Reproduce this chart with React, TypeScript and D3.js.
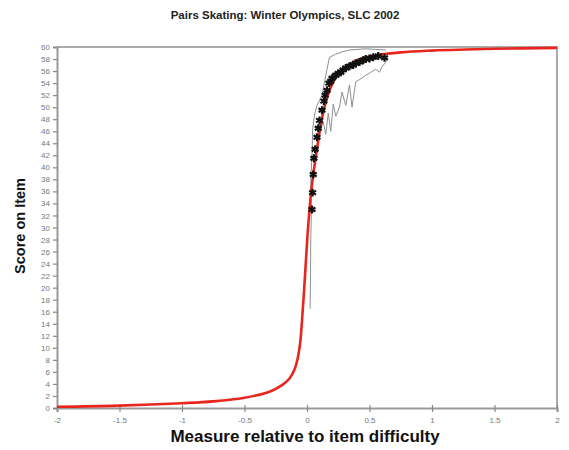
import { useEffect, useRef } from 'react'
import * as d3 from 'd3'

// model expected-score curve
const CURVE_X = [-2, -1.5, -1, -0.75, -0.5, -0.3, -0.2, -0.14, -0.1, -0.075, -0.055, -0.04, -0.025, -0.01, 0.005, 0.02, 0.035, 0.05, 0.08, 0.1, 0.14, 0.2, 0.28, 0.38, 0.5, 0.75, 1, 1.5, 2]
const CURVE_Y = [0.2, 0.4, 0.8, 1.1, 1.7, 2.7, 3.8, 4.9, 6.4, 8.2, 10.8, 14.5, 19, 24, 29, 33, 36.3, 38.8, 43, 45.8, 50, 53.8, 56.2, 57.6, 58.4, 59.1, 59.4, 59.7, 59.85]

// observed means (black markers)
const OBS_X = [0.04, 0.045, 0.05, 0.055, 0.065, 0.08, 0.09, 0.1, 0.12, 0.135, 0.145, 0.16, 0.175, 0.19, 0.2, 0.23, 0.25, 0.27, 0.29, 0.31, 0.34, 0.37, 0.39, 0.42, 0.45, 0.47, 0.5, 0.53, 0.57, 0.62]
const OBS_Y = [33, 35.8, 38.8, 41.5, 43, 45, 46.5, 47.8, 49.5, 51, 52, 52.8, 54, 54.3, 54.8, 55.3, 55.6, 55.8, 56.2, 56.5, 56.8, 57, 57.3, 57.5, 57.8, 58, 58.1, 58.3, 58.5, 58.2]

// individual observation traces (thin gray)
const TRACE1_X = [0.025, 0.028, 0.03, 0.035, 0.03, 0.04, 0.045, 0.06, 0.08, 0.12, 0.14, 0.16, 0.18, 0.23, 0.28, 0.34, 0.47, 0.63]
const TRACE1_Y = [16.5, 22, 28, 33, 38, 42, 46.3, 48.7, 50.3, 52, 54.2, 56.3, 58.3, 58.8, 59.2, 59.5, 59.7, 59.5]
const TRACE2_X = [0.1, 0.13, 0.15, 0.17, 0.19, 0.21, 0.23, 0.26, 0.28, 0.31, 0.34, 0.36, 0.39, 0.43, 0.47, 0.51, 0.55, 0.58, 0.6, 0.63, 0.64]
const TRACE2_Y = [46, 47.5, 45.5, 49, 46, 50.5, 48.5, 50, 52.5, 50.3, 53.7, 50, 54.2, 54.7, 55.3, 55.8, 56.3, 55.8, 56.7, 57.5, 58.3]

const X_TICKS = [-2, -1.5, -1, -0.5, 0, 0.5, 1, 1.5, 2]
const Y_TICKS = d3.range(0, 61, 2)

const FONT = '"Liberation Sans", Arial, sans-serif'

export default function App() {
  const ref = useRef<SVGSVGElement>(null)

  useEffect(() => {
    const svg = d3.select(ref.current)
    svg.selectAll('*').remove()

    const width = 569
    const height = 450
    const margin = { top: 47, right: 12, bottom: 42, left: 57 }
    const innerW = width - margin.left - margin.right
    const innerH = height - margin.top - margin.bottom

    svg.attr('width', width).attr('height', height).attr('viewBox', `0 0 ${width} ${height}`)
    svg.append('rect').attr('width', width).attr('height', height).attr('fill', '#fff')

    const g = svg.append('g').attr('transform', `translate(${margin.left},${margin.top})`)

    const x = d3.scaleLinear().domain([-2, 2]).range([0, innerW])
    const y = d3.scaleLinear().domain([0, 60]).range([innerH, 0])

    // frame (top & right)
    g.append('path')
      .attr('d', `M0,0H${innerW}V${innerH}`)
      .attr('fill', 'none')
      .attr('stroke', '#aaa')
      .attr('stroke-width', 2)

    const xAxis = g.append('g')
      .attr('transform', `translate(0,${innerH})`)
      .call(d3.axisBottom(x).tickValues(X_TICKS).tickSize(4).tickPadding(5).tickFormat(d => String(d)))
    const yAxis = g.append('g')
      .call(d3.axisLeft(y).tickValues(Y_TICKS).tickSize(4).tickPadding(3))
    for (const ax of [xAxis, yAxis]) {
      ax.select('.domain').attr('stroke', '#999').attr('stroke-width', 2)
      ax.selectAll('.tick line').attr('stroke', '#888').attr('stroke-width', 1.2)
      ax.selectAll('.tick text').attr('fill', '#777').attr('font-size', 8).attr('font-family', FONT)
    }
    xAxis.selectAll('.tick line').attr('y1', -3)

    const line = d3.line<[number, number]>().x(d => x(d[0])).y(d => y(d[1]))
    const zip = (xs: number[], ys: number[]) => xs.map((v, i) => [v, ys[i]] as [number, number])

    for (const [xs, ys] of [[TRACE1_X, TRACE1_Y], [TRACE2_X, TRACE2_Y]]) {
      g.append('path')
        .attr('d', line(zip(xs, ys)))
        .attr('fill', 'none')
        .attr('stroke', '#8f8f8f')
        .attr('stroke-width', 1)
    }

    g.append('path')
      .attr('d', line.curve(d3.curveCatmullRom.alpha(0.5))(zip(CURVE_X, CURVE_Y)))
      .attr('fill', 'none')
      .attr('stroke', '#e8261e')
      .attr('stroke-width', 2.6)

    const sym = d3.symbol().type(d3.symbolAsterisk).size(44)
    g.selectAll('.obs')
      .data(zip(OBS_X, OBS_Y))
      .join('path')
      .attr('class', 'obs')
      .attr('transform', d => `translate(${x(d[0])},${y(d[1])})`)
      .attr('d', sym()!)
      .attr('fill', 'none')
      .attr('stroke', '#111')
      .attr('stroke-width', 2.2)

    svg.append('text')
      .attr('x', 285)
      .attr('y', 19)
      .attr('text-anchor', 'middle')
      .attr('font-family', FONT)
      .attr('font-weight', 'bold')
      .attr('font-size', 11.5)
      .attr('fill', '#222')
      .text('Pairs Skating: Winter Olympics, SLC 2002')

    svg.append('text')
      .attr('transform', 'translate(25,226) rotate(-90)')
      .attr('text-anchor', 'middle')
      .attr('font-family', FONT)
      .attr('font-weight', 'bold')
      .attr('font-size', 14.5)
      .attr('fill', '#111')
      .text('Score on Item')

    svg.append('text')
      .attr('x', 305)
      .attr('y', 442)
      .attr('text-anchor', 'middle')
      .attr('font-family', FONT)
      .attr('font-weight', 'bold')
      .attr('font-size', 17)
      .attr('fill', '#111')
      .text('Measure relative to item difficulty')
  }, [])

  return <svg ref={ref} style={{ position: 'absolute', left: 0, top: 0 }} />
}
